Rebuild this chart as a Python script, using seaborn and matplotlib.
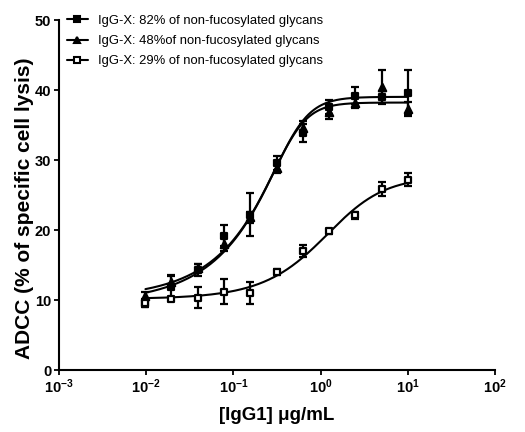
import numpy as np
import pandas as pd
import matplotlib
matplotlib.use("Agg")
import matplotlib.pyplot as plt
from matplotlib.lines import Line2D
import seaborn as sns

# ---- data ----
conc = [0.0098, 0.0195, 0.039, 0.078, 0.156, 0.3125, 0.625, 1.25, 2.5, 5.0, 10.0]

labels = ["IgG-X: 82% of non-fucosylated glycans",
          "IgG-X: 48%of non-fucosylated glycans",
          "IgG-X: 29% of non-fucosylated glycans"]

y82 = [9.4, 11.8, 14.3, 19.2, 22.2, 29.6, 33.9, 37.6, 39.2, 39.0, 39.6]
e82 = [0.4, 1.6, 0.8, 1.5, 3.1, 1.0, 1.3, 1.0, 1.2, 0.8, 3.2]

y48 = [10.6, 12.6, 14.6, 18.0, 21.8, 28.8, 34.6, 36.8, 38.2, 40.4, 37.3]
e48 = [0.5, 1.0, 0.6, 1.0, 0.8, 0.6, 1.0, 1.0, 0.8, 2.4, 1.0]

y29 = [9.6, 10.2, 10.3, 11.2, 11.0, 14.0, 17.0, 19.8, 22.1, 25.9, 27.2]
e29 = [0.3, 0.3, 1.5, 1.8, 1.6, 0.4, 0.8, 0.3, 0.5, 1.0, 0.9]

# fitted dose-response curves as traced on the reference (x, y)
fit82_x = [0.0093, 0.0398, 0.119, 0.275, 0.625, 1.25, 2.5, 10.0]
fit82_y = [10.9, 14.0, 19.8, 27.4, 35.7, 38.4, 38.9, 38.9]
fit48_x = [0.0093, 0.0398, 0.119, 0.275, 0.625, 1.25, 2.5, 10.0]
fit48_y = [11.4, 14.3, 20.0, 27.4, 35.5, 37.9, 38.0, 38.0]
fit29_x = [0.0093, 0.042, 0.084, 0.155, 0.3, 0.662, 1.25, 2.6, 5.2, 10.0]
fit29_y = [10.3, 10.5, 11.2, 11.9, 13.4, 16.2, 19.8, 23.1, 25.7, 26.7]

xticks = [1e-3, 1e-2, 1e-1, 1e0, 1e1, 1e2]
xticklabels = [r"$\mathbf{10^{-3}}$", r"$\mathbf{10^{-2}}$", r"$\mathbf{10^{-1}}$",
               r"$\mathbf{10^{0}}$", r"$\mathbf{10^{1}}$", r"$\mathbf{10^{2}}$"]
yticks = [0, 10, 20, 30, 40, 50]


def fit_logistic(x, y):
    """Least-squares 5-parameter logistic through the traced curve points
    (grid over EC50 / Hill / asymmetry, bottom & top solved linearly)."""
    lx = np.log10(np.asarray(x, float))
    y = np.asarray(y, float)
    lc = np.arange(-2.5, 1.5, 0.01)
    hs = np.arange(0.5, 3.0, 0.02)
    LC, H = np.meshgrid(lc, hs, indexing="ij")
    best = (np.inf, None)
    for s in np.geomspace(0.3, 3.0, 30):
        f = (1.0 / (1.0 + 10 ** ((LC[..., None] - lx) * H[..., None]))) ** s
        g = 1.0 - f
        a11 = (g * g).sum(-1); a12 = (g * f).sum(-1); a22 = (f * f).sum(-1)
        r1 = (g * y).sum(-1); r2 = (f * y).sum(-1)
        det = a11 * a22 - a12 ** 2
        b = (a22 * r1 - a12 * r2) / det
        t = (a11 * r2 - a12 * r1) / det
        res = ((b[..., None] * g + t[..., None] * f - y) ** 2).sum(-1)
        i, j = np.unravel_index(np.nanargmin(res), res.shape)
        if res[i, j] < best[0]:
            best = (res[i, j], (b[i, j], t[i, j], lc[i], hs[j], s))
    return best[1]


sns.set_style("ticks")
plt.rcParams["font.family"] = ["Liberation Sans", "DejaVu Sans"]
plt.rcParams["mathtext.fontset"] = "custom"
plt.rcParams["mathtext.rm"] = "Liberation Sans"
plt.rcParams["mathtext.bf"] = "Liberation Sans:bold"
for k in ["text.color", "axes.labelcolor", "xtick.color", "ytick.color", "axes.edgecolor"]:
    plt.rcParams[k] = "black"

fig = plt.figure(figsize=(5.25, 4.32), dpi=100)
ax = fig.add_axes([59 / 525, 62 / 432, 436 / 525, 350 / 432])

series = [(y82, e82, fit82_x, fit82_y, "s", "black"),
          (y48, e48, fit48_x, fit48_y, "^", "black"),
          (y29, e29, fit29_x, fit29_y, "s", "white")]
handles = []
for (yv, ev, fx, fy, mk, fc), lab in zip(series, labels):
    b, t, lc, h, s = fit_logistic(fx, fy)
    xc = np.logspace(np.log10(conc[0]), np.log10(conc[-1]), 300)
    yc = b + (t - b) / (1 + 10 ** ((lc - np.log10(xc)) * h)) ** s
    curve = pd.DataFrame({"x": xc, "y": yc})
    sns.lineplot(data=curve, x="x", y="y", ax=ax, color="black", lw=1.5, legend=False)
    ax.errorbar(conc, yv, yerr=ev, fmt="none", ecolor="black", elinewidth=1.6,
                capsize=3, capthick=1.6, zorder=3)
    pts = pd.DataFrame({"x": conc, "y": yv})
    sns.scatterplot(data=pts, x="x", y="y", ax=ax, marker=mk, s=22 if mk == "s" else 28,
                    color=fc, edgecolor="black", linewidth=1.6, zorder=4, legend=False)
    handles.append(Line2D([0], [0], color="black", lw=1.5, marker=mk, markersize=5,
                          markerfacecolor=fc, markeredgecolor="black", markeredgewidth=1.5))

ax.set_xscale("log")
ax.set_xlim(1e-3, 1e2)
ax.set_ylim(0, 50)
ax.set_xticks(xticks)
ax.set_xticklabels(xticklabels)
ax.xaxis.set_minor_locator(matplotlib.ticker.NullLocator())
ax.set_yticks(yticks)
ax.set_yticklabels([str(v) for v in yticks], fontweight="bold")
ax.tick_params(axis="both", labelsize=10.5, width=1.3, length=3.6, pad=2, color="black")
for sp in ["left", "bottom"]:
    ax.spines[sp].set_linewidth(1.5)
    ax.spines[sp].set_color("black")
sns.despine(ax=ax)

ax.set_xlabel("[IgG1] μg/mL", fontsize=13.5, fontweight="bold", labelpad=8)
ax.set_ylabel("ADCC (% of specific cell lysis)", fontsize=15, fontweight="bold")
ax.yaxis.set_label_coords(-0.058, 0.463)

leg = ax.legend(handles, labels, loc="upper left", bbox_to_anchor=(0.006, 1.03),
                frameon=False, fontsize=9.4, handlelength=1.6, handletextpad=0.8,
                labelspacing=0.62, borderaxespad=0)

fig.savefig("out.png", dpi=100)
